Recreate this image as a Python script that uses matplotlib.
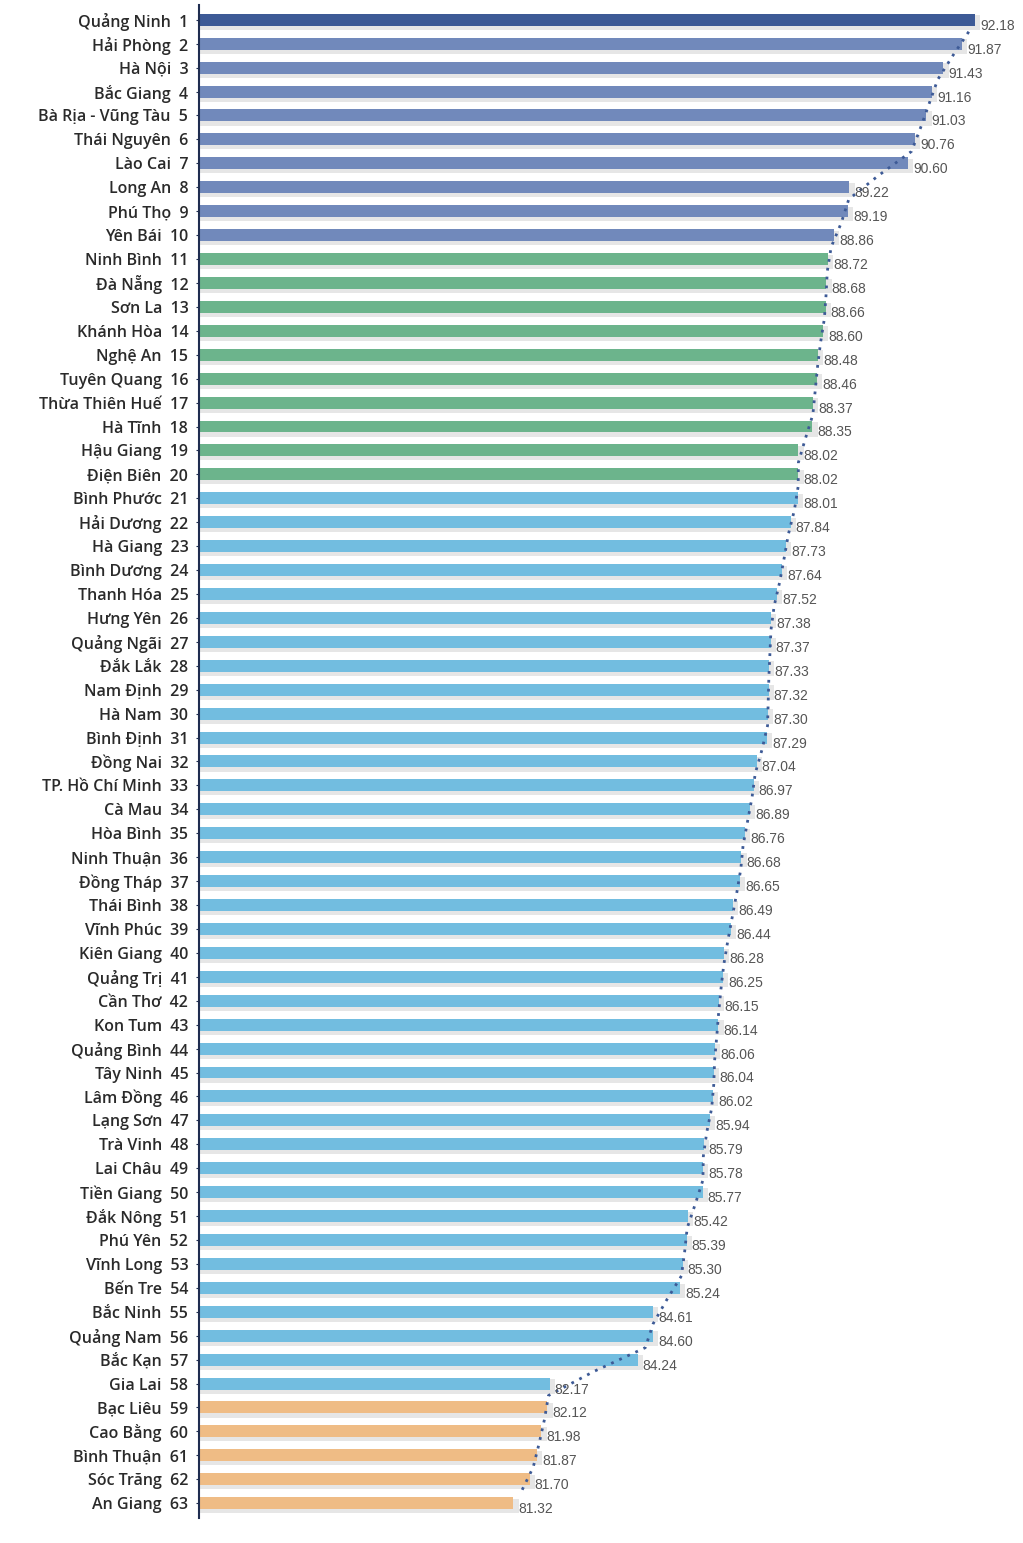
import matplotlib
matplotlib.use("Agg")
import matplotlib.pyplot as plt
import numpy as np

provinces = ["Quảng Ninh","Hải Phòng","Hà Nội","Bắc Giang","Bà Rịa - Vũng Tàu","Thái Nguyên","Lào Cai",
"Long An","Phú Thọ","Yên Bái","Ninh Bình","Đà Nẵng","Sơn La","Khánh Hòa","Nghệ An","Tuyên Quang",
"Thừa Thiên Huế","Hà Tĩnh","Hậu Giang","Điện Biên","Bình Phước","Hải Dương","Hà Giang","Bình Dương",
"Thanh Hóa","Hưng Yên","Quảng Ngãi","Đắk Lắk","Nam Định","Hà Nam","Bình Định","Đồng Nai",
"TP. Hồ Chí Minh","Cà Mau","Hòa Bình","Ninh Thuận","Đồng Tháp","Thái Bình","Vĩnh Phúc","Kiên Giang",
"Quảng Trị","Cần Thơ","Kon Tum","Quảng Bình","Tây Ninh","Lâm Đồng","Lạng Sơn","Trà Vinh","Lai Châu",
"Tiền Giang","Đắk Nông","Phú Yên","Vĩnh Long","Bến Tre","Bắc Ninh","Quảng Nam","Bắc Kạn","Gia Lai",
"Bạc Liêu","Cao Bằng","Bình Thuận","Sóc Trăng","An Giang"]
values = [92.18,91.87,91.43,91.16,91.03,90.76,90.60,89.22,89.19,88.86,88.72,88.68,88.66,88.60,88.48,88.46,
88.37,88.35,88.02,88.02,88.01,87.84,87.73,87.64,87.52,87.38,87.37,87.33,87.32,87.30,87.29,87.04,86.97,
86.89,86.76,86.68,86.65,86.49,86.44,86.28,86.25,86.15,86.14,86.06,86.04,86.02,85.94,85.79,85.78,85.77,
85.42,85.39,85.30,85.24,84.61,84.60,84.24,82.17,82.12,81.98,81.87,81.70,81.32]
groups = [0]+[1]*9+[2]*10+[3]*38+[4]*5
group_colors = ["#3d5a96","#7189bb","#6cb48c","#72bde0","#efbc85"]

fig = plt.figure(figsize=(10.23,15.43), dpi=100)
ax = fig.add_axes([0.195, 0.0165, 0.805, 0.98])
n = len(values)
y = np.arange(n)
xmin = 73.94
cols = [group_colors[g] for g in groups]
ax.barh(y+0.12, np.array(values)+0.12-xmin, left=xmin, height=0.6, color="#e6e6e6", zorder=1)
ax.barh(y, np.array(values)-xmin, left=xmin, height=0.5, color=cols, zorder=2)
ma = (np.array(values[:-1])+np.array(values[1:]))/2
ax.plot(ma, y[:-1]+0.5, ls=(0,(1,2.2)), color="#3d5a96", lw=2, zorder=3)
for i, v in enumerate(values):
    ax.text(v+0.12, i+0.25, f"{v:.2f}", fontsize=10, color="#555555", va="center", ha="left",
            family="Liberation Sans", zorder=4)
ax.set_yticks(y)
ax.set_yticklabels([f"{p}  {i+1}" for i, p in enumerate(provinces)], fontsize=11.5,
                   family="Open Sans", fontweight="semibold", color="#2a2a2a")
ax.tick_params(axis="y", direction="inout", length=4, pad=6, color="#1f2d50")
ax.set_ylim(n-0.4, -0.6)
ax.set_xlim(xmin, 93.3)
ax.set_xticks([])
for s in ["top","right","bottom"]:
    ax.spines[s].set_visible(False)
ax.spines["left"].set_color("#1f2d50")
ax.spines["left"].set_linewidth(1.5)
fig.savefig("out.png", dpi=100)
